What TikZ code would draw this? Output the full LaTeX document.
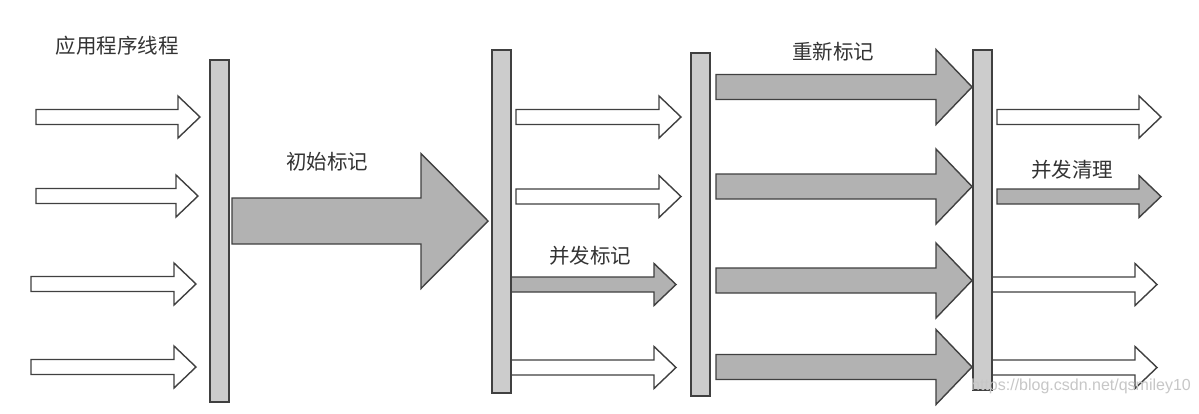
\documentclass[tikz,border=0pt]{standalone}
\usepackage{fontspec}
\newfontfamily\cjk{Noto Sans CJK SC}
\newfontfamily\urlfont{Liberation Sans}
\usetikzlibrary{positioning}

% block arrow: style, x start, x tip, y, half body, half head, head length
\newcommand{\blockarrow}[7]{%
  \draw[#1] (#2,#4-#5) -- (#3-#7,#4-#5) -- (#3-#7,#4-#6) -- (#3,#4)
    -- (#3-#7,#4+#6) -- (#3-#7,#4+#5) -- (#2,#4+#5) -- cycle;}
\newcommand{\thinarrow}[4]{\blockarrow{#1}{#2}{#3}{#4}{7.5}{21}{22}}
\newcommand{\widearrow}[4]{\blockarrow{#1}{#2}{#3}{#4}{12.5}{37.5}{36}}

\begin{document}
\begin{tikzpicture}[
  x=1pt,y=-1pt,
  bar/.style={draw=black!75,line width=1.4pt,fill=black!20,
              minimum width=19pt,inner sep=0pt},
  lane/.style={draw=black!75,line width=1.4pt,fill=white,line join=miter},
  work/.style={lane,fill=black!30},
  lbl/.style={font=\cjk\fontsize{20.5}{24}\selectfont,text=black!80}
]
\useasboundingbox[fill=white] (0,0) rectangle (1199,413);

\node[lbl] (appthreads) at (117,46) {应用程序线程};

% application threads
\thinarrow{lane}{36}{200}{117}
\thinarrow{lane}{36}{198}{196}
\thinarrow{lane}{31}{196}{284}
\thinarrow{lane}{31}{196}{367}

% initial mark
\blockarrow{work}{232}{488}{221}{23}{67.5}{67}
\node[lbl] (initmark) at (327,162) {初始标记};

% concurrent mark
\thinarrow{lane}{516}{681}{117}
\thinarrow{lane}{516}{681}{196.5}
\thinarrow{work}{511}{676}{284.5}
\thinarrow{lane}{511}{676}{367.5}
\node[lbl] (concmark) at (590,256) {并发标记};

% remark
\widearrow{work}{716}{972}{87}
\widearrow{work}{716}{972}{186.5}
\widearrow{work}{716}{972}{280.5}
\widearrow{work}{716}{972}{367}
\node[lbl] (remark) at (833,52) {重新标记};

% concurrent sweep
\thinarrow{lane}{997}{1161}{117}
\thinarrow{work}{997}{1161}{196.5}
\thinarrow{lane}{992}{1157}{284.5}
\thinarrow{lane}{992}{1157}{367.5}
\node[lbl] (concsweep) at (1072,170) {并发清理};

% safepoints
\node[bar,minimum height=342pt] (sp1) at (219.5,231) {};
\node[bar,minimum height=343pt] (sp2) at (501.5,221.5) {};
\node[bar,minimum height=343pt] (sp3) at (700.5,224.5) {};
\node[bar,minimum height=340pt] (sp4) at (982.5,220) {};

\node[font=\urlfont\fontsize{16}{18}\selectfont,text=black!22]
  (mark) at (1081,386) {https://blog.csdn.net/qsmiley10};
\end{tikzpicture}
\end{document}
